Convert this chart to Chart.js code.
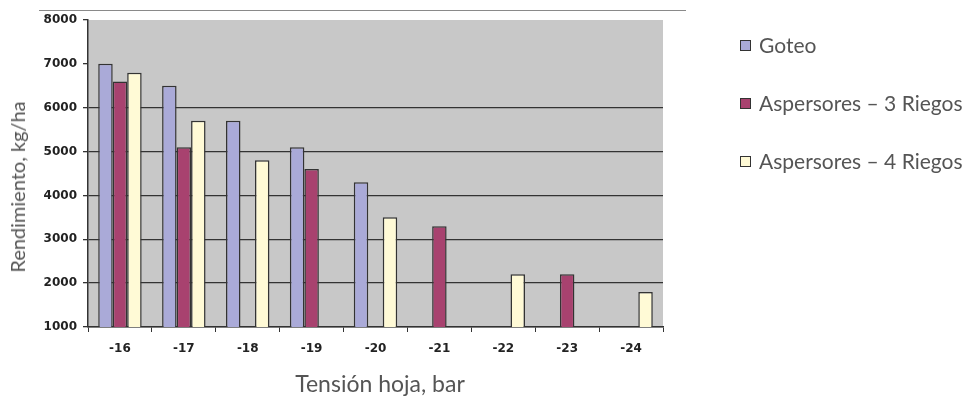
<!DOCTYPE html>
<html>
<head>
<meta charset="utf-8">
<script src="https://cdn.jsdelivr.net/npm/chart.js@4"></script>
<style>
    body { margin: 0; background: #fff; }
    #wrap { position: relative; width: 978px; height: 399px; }
    #topline { position: absolute; left: 39px; top: 10px; width: 647px; height: 0; border-top: 1px solid #8a8a8a; }
    #legend { position: absolute; left: 740px; top: 30px; font-family: Lato, sans-serif; font-size: 21px; color: #555; }
    #legend div { height: 30px; line-height: 30px; margin-bottom: 28px; white-space: nowrap; }
    #legend span.box { display: inline-block; width: 9px; height: 9px; border: 1px solid #333; margin-right: 8px; vertical-align: 2px; }
    .axis-title { position: absolute; font-family: Lato, sans-serif; color: #555; white-space: nowrap; }
    #ytitle { left: 17px; top: 187px; font-size: 20px; transform: translate(-50%, -50%) rotate(-90deg); }
    #xtitle { left: 380px; top: 383px; font-size: 23px; transform: translate(-50%, -50%); }
</style>
</head>
<body>
<div id="wrap">
    <canvas id="chart" width="978" height="399"></canvas>
    <div id="topline"></div>
    <div id="legend"></div>
    <div id="ytitle" class="axis-title">Rendimiento, kg/ha</div>
    <div id="xtitle" class="axis-title">Tensión hoja, bar</div>
</div>
<script>
const categories = ['-16', '-17', '-18', '-19', '-20', '-21', '-22', '-23', '-24'];
const goteo = [7000, 6500, 5700, 5100, 4300, null, null, null, null];
const riegos3 = [6600, 5100, null, 4600, null, 3300, null, 2200, null];
const riegos4 = [6800, 5700, 4800, null, 3500, null, 2200, null, 1800];
const seriesNames = ['Goteo', 'Aspersores – 3 Riegos', 'Aspersores – 4 Riegos'];
const seriesColors = ['#aaaad8', '#a8426f', '#fffad6'];

// Gray plot area background
const plotBg = {
    id: 'plotBg',
    beforeDraw(chart) {
        const { ctx, chartArea: a } = chart;
        ctx.save();
        ctx.fillStyle = '#c8c8c8';
        ctx.fillRect(a.left, a.top, a.right - a.left, a.bottom - a.top);
        ctx.restore();
    }
};

const data = {
    labels: categories,
    datasets: [goteo, riegos3, riegos4].map((vals, i) => ({
        label: seriesNames[i],
        data: vals,
        backgroundColor: seriesColors[i],
        borderColor: '#333',
        borderWidth: 1.5,
        categoryPercentage: 0.68,
        barPercentage: 1
    }))
};

const tickFont = { family: 'DejaVu Sans', size: 12, weight: 'bold' };

new Chart(document.getElementById('chart'), {
    type: 'bar',
    data: data,
    plugins: [plotBg],
    options: {
        responsive: false,
        animation: false,
        layout: { padding: { left: 0, top: 20, right: 315, bottom: 0 } },
        plugins: { legend: { display: false }, tooltip: { enabled: false } },
        scales: {
            x: {
                grid: { display: true, drawOnChartArea: false, color: '#333', tickLength: 5, offset: true },
                border: { color: '#333', width: 1.5 },
                ticks: { color: '#222', font: tickFont, padding: 10 },
                afterFit(scale) { scale.height = 72; }
            },
            y: {
                min: 1000,
                max: 8000,
                ticks: { stepSize: 1000, color: '#222', font: tickFont, padding: 6, callback: v => String(v) },
                grid: {
                    color: ctx => (ctx.tick && ctx.tick.value >= 7000) ? 'rgba(0,0,0,0)' : '#333',
                    lineWidth: 1.3,
                    tickColor: '#333',
                    tickLength: 5
                },
                border: { color: '#333', width: 1.5 },
                afterFit(scale) { scale.width = 88; }
            }
        }
    }
});

// Legend
const legend = document.getElementById('legend');
seriesNames.forEach((name, i) => {
    const row = document.createElement('div');
    row.innerHTML = '<span class="box" style="background:' + seriesColors[i] + '"></span>' + name;
    legend.appendChild(row);
});
</script>
</body>
</html>
